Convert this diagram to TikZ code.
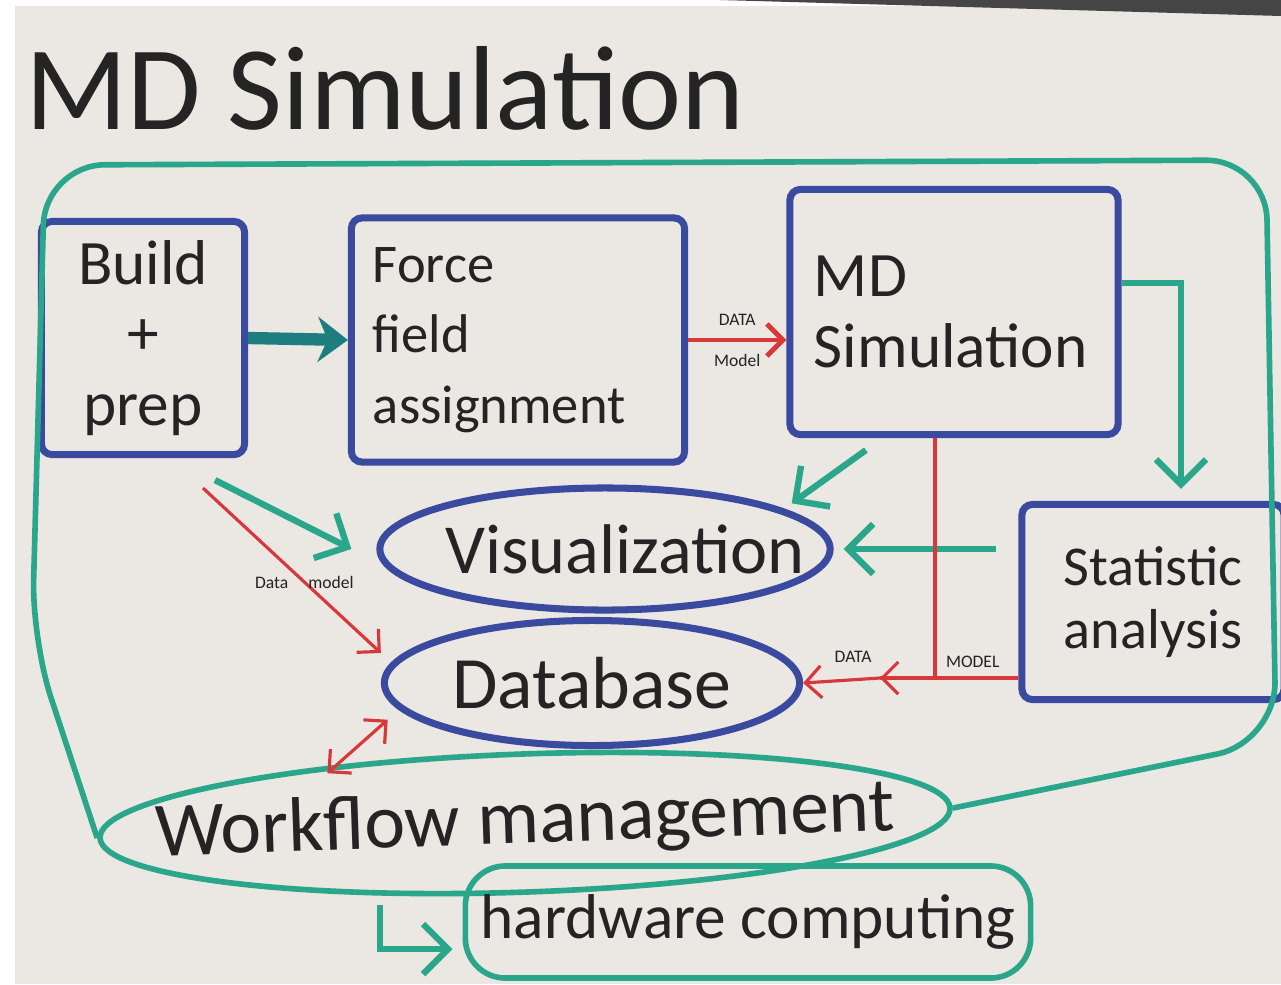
\documentclass[tikz,border=0pt]{standalone}
\usepackage{fontspec}
\setmainfont{Carlito}
\usetikzlibrary{arrows.meta,shapes.geometric,positioning}
\definecolor{azulM}{HTML}{3A4A9F}
\definecolor{verdeM}{HTML}{2AA68B}
\definecolor{verdeO}{HTML}{1E7D7E}
\definecolor{rojoM}{HTML}{D8383A}
\definecolor{negroM}{HTML}{242424}
\definecolor{papel}{HTML}{EBE7E3}

\begin{document}
\begin{tikzpicture}[x=0.01cm,y=-0.01cm,>={Straight Barb[length=2.5mm,width=5mm]},
  caja/.style={draw=azulM,line width=2pt,rounded corners=3pt,text=negroM,
    font=\fontsize{18}{20}\selectfont},
  ovalo/.style={ellipse,draw=azulM,line width=2pt,text=negroM,inner sep=0pt,inner xsep=-1.5cm},
  verde/.style={draw=verdeM,line width=1.8pt,->},
  rojo/.style={draw=rojoM,line width=0.9pt,-{Straight Barb[length=1.6mm,width=3.2mm]}},
  rotulo/.style={text=negroM,font=\fontsize{5}{6}\selectfont,inner sep=1.5pt}]
  \useasboundingbox (0,0) rectangle (1281,984);
  \fill[white] (0,0) rectangle (1281,984);
  \fill[papel] (15,6) rectangle (1281,984);
  \fill[negroM!85] (720,0) -- (1281,0) -- (1281,16) -- cycle;

  \node[text=negroM,font=\fontsize{34}{36}\selectfont] (titulo) at (385,88) {MD Simulation};

  % cajas
  \node[caja,minimum width=2.03cm,minimum height=2.33cm,align=center] (build) at (143,338)
    {Build\\+\\prep};
  \node[caja,minimum width=3.33cm,minimum height=2.44cm,text width=2.9cm,align=left,
    font=\fontsize{15.5}{20}\selectfont] (force) at (518,340) {Force\\field\\assignment};
  \node[caja,minimum width=3.28cm,minimum height=2.45cm,text width=2.8cm,align=left] (mdsim)
    at (954,312) {MD\\Simulation};
  \node[caja,minimum width=2.62cm,minimum height=1.95cm,align=center,
    font=\fontsize{16}{18}\selectfont] (stat) at (1153,602) {Statistic\\analysis};
  \node[ovalo,minimum width=4.5cm,minimum height=1.22cm,font=\fontsize{20}{22}\selectfont]
    (viz) at (605,549) {\hspace{4mm}Visualization};
  \node[ovalo,minimum width=4.15cm,minimum height=1.25cm,font=\fontsize{21}{23}\selectfont]
    (db) at (592,683) {Database};
  \node[ellipse,draw=verdeM,line width=1.6pt,inner sep=0pt,inner xsep=-3cm,text=negroM,rotate=2,
    minimum width=8.5cm,minimum height=1.38cm,font=\fontsize{22}{24}\selectfont]
    (wf) at (525,823) {Workflow management};
  \node[draw=verdeM,line width=1.6pt,rounded corners=0.4cm,text=negroM,inner xsep=2pt,
    minimum width=5.65cm,minimum height=1.12cm,font=\fontsize{18}{20}\selectfont]
    (hw) at (748,922) {hardware computing};
  \coordinate (cruce) at (880,678);
  \coordinate (bajada) at (380,905);

  % conexiones
  \draw[verdeO,line width=3.5pt,-{Stealth[length=3mm,width=4.5mm]}] (build.east) -- (force.west);
  \draw[rojo,line width=1.4pt] (force.east) -- (force.east -| mdsim.west)
    node[midway,above=2pt,rotulo]{DATA} node[midway,below=2pt,rotulo]{Model};
  \draw[verde] ([yshift=0.29cm]mdsim.east) -| ([xshift=0.28cm,yshift=0.12cm]stat.north);
  \draw[verde] ([xshift=-0.88cm,yshift=-0.12cm]mdsim.south) -- ([xshift=0.25cm]viz.north east);
  \draw[verde] ([xshift=-0.22cm]stat.west |- viz.east) -- ([xshift=0.1cm]viz.east);
  \draw[verde] ([xshift=-0.33cm,yshift=-0.22cm]build.south east) -- ([xshift=-0.25cm]viz.west);
  \draw[rojo] ([xshift=-0.45cm,yshift=-0.3cm]build.south east) -- ([yshift=0.3cm]db.west)
    node[pos=0.57,rotulo]{Data\hspace{2mm}model};
  \draw[rojo,-] ([xshift=-0.19cm]mdsim.south) |- (cruce);
  \draw[rojo] (stat.west |- cruce) -- (cruce) node[pos=0.33,above=1pt,rotulo]{MODEL};
  \draw[rojo] (cruce) -- (db.east) node[pos=0.35,above=3pt,rotulo]{DATA};
  \draw[rojo,{Straight Barb[length=1.6mm,width=3.2mm]}-{Straight Barb[length=1.6mm,width=3.2mm]}]
    ([xshift=-1.95cm,yshift=-0.22cm]wf.north) -- ([xshift=-0.55cm,yshift=0.1cm]db.south west);
  \draw[verde] (bajada) |- ([xshift=-0.1cm,yshift=-0.27cm]hw.west);
  \draw[verdeM,line width=1.6pt,rounded corners=0.6cm] (wf.east) -- (1276,742) -- (1266,160)
    -- (45,165) -- (32,640) -- (wf.west);
\end{tikzpicture}
\end{document}
